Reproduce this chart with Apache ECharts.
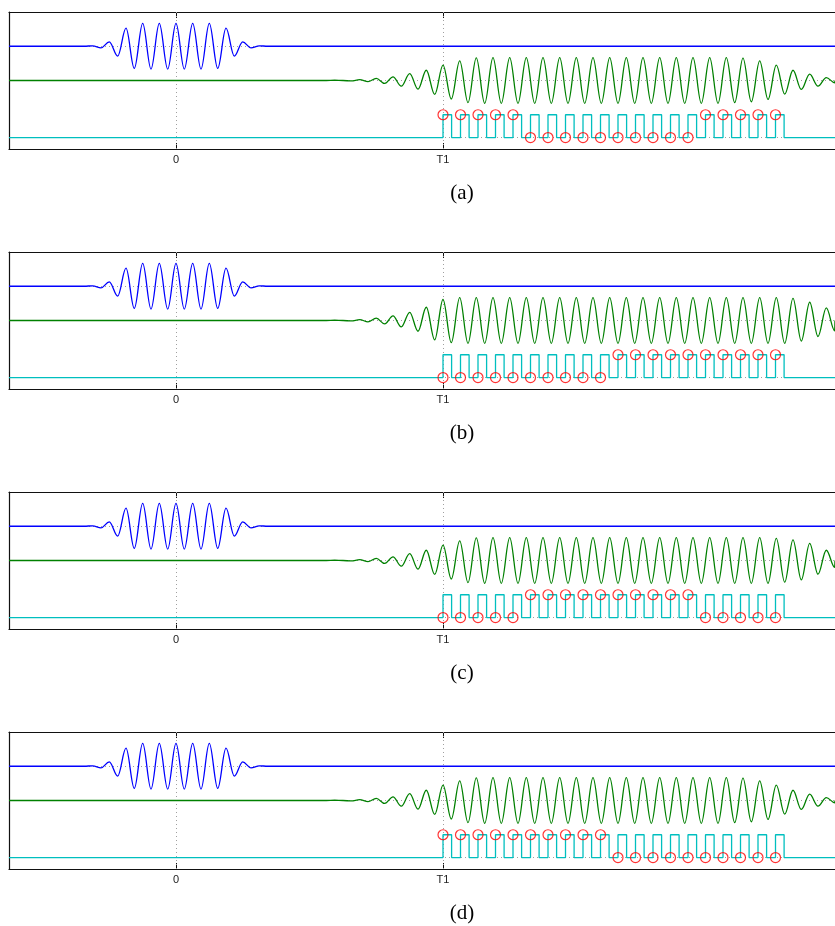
<!DOCTYPE html>
<html><head><meta charset="utf-8">
<script src="https://cdn.jsdelivr.net/npm/echarts@6/dist/echarts.min.js"></script>
<style>html,body{margin:0;padding:0;background:#fff}#c{width:835px;height:926px}</style>
</head><body><div id="c"></div>
<script>
// ---- data (time axis: tick "0" = 0, tick "T1" = 267) ----
const xTickValues = [0, 267];
const xTickLabels = ['0', 'T1'];
const xRange = [-167, 659];
const panelCaptions = ['(a)', '(b)', '(c)', '(d)'];

// blue wave packet: extrema times and amplitudes
const blueTimes = [-91.7, -83.3, -75.0, -66.7, -58.3, -50.0, -41.7, -33.3, -25.0, -16.7, -8.3, 0, 8.3, 16.7, 25.0, 33.3, 41.7, 50.0, 58.3, 66.7, 75.0, 83.3, 91.7];
const blueAmp   = [0, 0.02, -0.07, 0.19, -0.43, 0.79, -0.97, 1.0, -1.0, 1.0, -1.0, 1.0, -1.0, 1.0, -1.0, 1.0, -0.97, 0.79, -0.43, 0.19, -0.07, 0.02, 0];

// green wave: extrema times and amplitudes (per panel)
const greenTimes = [150.3, 158.7, 167.0, 175.3, 183.7, 192.0, 200.3, 208.7, 217.0, 225.3, 233.7, 242.0, 250.3, 258.7,
  267.0, 275.3, 283.7, 292.0, 300.3, 308.7, 317.0, 325.3, 333.7, 342.0, 350.3, 358.7, 367.0, 375.3, 383.7,
  392.0, 400.3, 408.7, 417.0, 425.3, 433.7, 442.0, 450.3, 458.7, 467.0, 475.3, 483.7, 492.0, 500.3, 508.7,
  517.0, 525.3, 533.7, 542.0, 550.3, 558.7, 567.0, 575.3, 583.7, 592.0, 600.3, 608.7, 617.0, 625.3, 633.7,
  642.0, 650.3, 658.7];
const greenAmpA = [0, 0.01, 0.0, -0.02, 0.04, -0.05, 0.09, -0.13, 0.16, -0.25, 0.30, -0.38, 0.45, -0.61,
  0.67, -0.81, 0.86, -0.97, 0.99, -1, 1, -1, 1, -1, 1, -1, 1, -1, 1,
  -1, 1, -1, 1, -1, 1, -1, 1, -1, 1, -1, 1, -1, 1, -1,
  1, -1, 1, -1, 1, -0.97, 0.98, -0.93, 0.86, -0.83, 0.67, -0.6, 0.45, -0.39, 0.28,
  -0.25, 0.13, -0.1];
const greenAmpB = [0, 0.01, 0.0, -0.02, 0.04, -0.06, 0.10, -0.15, 0.20, -0.28, 0.36, -0.47, 0.58, -0.85,
  0.92, -0.97, 1, -1, 1, -1, 1, -1, 1, -1, 1, -1, 1, -1, 1,
  -1, 1, -1, 1, -1, 1, -1, 1, -1, 1, -1, 1, -1, 1, -1,
  1, -1, 1, -1, 1, -1, 1, -1, 1, -1, 1, -1, 0.97, -0.9, 0.8,
  -0.7, 0.55, -0.45];
const greenAmpC = [0, 0.01, 0.0, -0.02, 0.04, -0.05, 0.09, -0.13, 0.16, -0.25, 0.30, -0.38, 0.45, -0.61,
  0.67, -0.81, 0.86, -0.97, 0.99, -1, 1, -1, 1, -1, 1, -1, 1, -1, 1,
  -1, 1, -1, 1, -1, 1, -1, 1, -1, 1, -1, 1, -1, 1, -1,
  1, -1, 1, -1, 1, -1, 1, -1, 1, -1, 0.97, -0.95, 0.9, -0.85, 0.75,
  -0.6, 0.45, -0.3];
const greenAmpD = [0, 0.01, 0.0, -0.02, 0.04, -0.05, 0.09, -0.13, 0.16, -0.25, 0.30, -0.38, 0.45, -0.61,
  0.67, -0.81, 0.86, -0.97, 0.99, -1, 1, -1, 1, -1, 1, -1, 1, -1, 1,
  -1, 1, -1, 1, -1, 1, -1, 1, -1, 1, -1, 1, -1, 1, -1,
  1, -1, 1, -1, 1, -0.97, 0.98, -0.93, 0.86, -0.83, 0.67, -0.6, 0.45, -0.39, 0.28,
  -0.25, 0.13, -0.1];

// cyan pulse train: rising-edge times, pulse width; red markers: bit values
const pulseStarts = [267, 284.5, 302, 319.5, 337, 354.5, 372, 389.5, 407, 424.5,
  442, 459.5, 477, 494.5, 512, 529.5, 547, 564.5, 582, 599.5];
const pulseWidth = 8.6;
const bitsA = [1,1,1,1,1, 0,0,0,0,0, 0,0,0,0,0, 1,1,1,1,1];
const bitsB = [0,0,0,0,0, 0,0,0,0,0, 1,1,1,1,1, 1,1,1,1,1];
const bitsC = [0,0,0,0,0, 1,1,1,1,1, 1,1,1,1,1, 0,0,0,0,0];
const bitsD = [1,1,1,1,1, 1,1,1,1,1, 0,0,0,0,0, 0,0,0,0,0];

// trace offsets on the (unlabelled) y axis
const traceOffsets = [4, 2.5, 0];

// ---- build chart ----
const greenSets = [greenAmpA, greenAmpB, greenAmpC, greenAmpD];
const bitSets = [bitsA, bitsB, bitsC, bitsD];
const panelTop = [12, 252, 492, 732];
const panelH = 137;

function wave(times, amps, off) {
  const d = [[xRange[0], off]];
  times.forEach((t, i) => d.push([t, off + amps[i]]));
  d.push([xRange[1], off]);
  return d;
}
function pulses(off) {
  const d = [[xRange[0], off]];
  pulseStarts.forEach(s => { d.push([s, off], [s, off + 1], [s + pulseWidth, off + 1], [s + pulseWidth, off]); });
  d.push([xRange[1], off]);
  return d;
}

const grid = [], xAxis = [], yAxis = [], series = [], graphic = [];
const fontAxis = 'Liberation Sans';
for (let p = 0; p < 4; p++) {
  grid.push({ left: 9, top: panelTop[p], right: 0, height: panelH, containLabel: false });
  const tickCommon = { show: true, inside: true, length: 6, customValues: xTickValues, lineStyle: { color: '#111', width: 1 } };
  xAxis.push({
    gridIndex: p, type: 'value', min: xRange[0], max: xRange[1], position: 'bottom',
    axisLine: { show: true, onZero: false, lineStyle: { color: '#111', width: 1.2 } },
    axisTick: tickCommon,
    axisLabel: { show: true, customValues: xTickValues, margin: 5, fontSize: 11, fontFamily: fontAxis, color: '#222',
      formatter: v => { const i = xTickValues.indexOf(v); return i >= 0 ? xTickLabels[i] : ''; } },
    splitLine: { show: false }
  });
  xAxis.push({
    gridIndex: p, type: 'value', min: xRange[0], max: xRange[1], position: 'top',
    axisLine: { show: true, onZero: false, lineStyle: { color: '#111', width: 1.2 } },
    axisTick: tickCommon,
    axisLabel: { show: false },
    splitLine: { show: false }
  });
  yAxis.push({
    gridIndex: p, type: 'value', min: -0.5, max: 5.5,
    axisLine: { show: true, onZero: false, lineStyle: { color: '#111', width: 1.2 } },
    axisTick: { show: false }, axisLabel: { show: false }, splitLine: { show: false }
  });
  const xi = 2 * p, yi = p;
  // dotted grid lines
  series.push({
    type: 'line', xAxisIndex: xi, yAxisIndex: yi, data: [], z: 1, silent: true, animation: false,
    markLine: {
      silent: true, symbol: 'none', animation: false, z: 1, label: { show: false },
      lineStyle: { type: [1, 3], color: '#a0a0a0', width: 1 },
      data: xTickValues.map(v => ({ xAxis: v })).concat(traceOffsets.map(v => ({ yAxis: v })))
    }
  });
  const lineBase = { type: 'line', xAxisIndex: xi, yAxisIndex: yi, showSymbol: false, symbol: 'none', animation: false, silent: true, z: 3 };
  series.push(Object.assign({}, lineBase, {
    data: wave(blueTimes, blueAmp, traceOffsets[0]), smooth: 0.36, smoothMonotone: 'x',
    lineStyle: { color: '#0000ff', width: 1.3 }
  }));
  series.push(Object.assign({}, lineBase, {
    data: wave(greenTimes, greenSets[p], traceOffsets[1]), smooth: 0.36, smoothMonotone: 'x',
    lineStyle: { color: '#008000', width: 1.3 }
  }));
  series.push(Object.assign({}, lineBase, {
    data: pulses(traceOffsets[2]), lineStyle: { color: '#00bfbf', width: 1.3 }
  }));
  series.push({
    type: 'scatter', xAxisIndex: xi, yAxisIndex: yi, animation: false, silent: true, z: 4,
    symbol: 'circle', symbolSize: 10,
    itemStyle: { color: 'rgba(0,0,0,0)', borderColor: '#ff0000', borderWidth: 1.2 },
    data: pulseStarts.map((s, i) => [s, traceOffsets[2] + bitSets[p][i]])
  });
  graphic.push({
    type: 'text', x: 462, y: panelTop[p] + 181, silent: true,
    style: { text: panelCaptions[p], fontFamily: 'Liberation Serif', fontSize: 21, fill: '#000', align: 'center', textAlign: 'center', verticalAlign: 'middle', textVerticalAlign: 'middle' }
  });
}

const chart = echarts.init(document.getElementById('c'), null, { renderer: 'canvas' });
chart.setOption({ animation: false, backgroundColor: '#fff', grid, xAxis, yAxis, series, graphic });
</script>
</body></html>
